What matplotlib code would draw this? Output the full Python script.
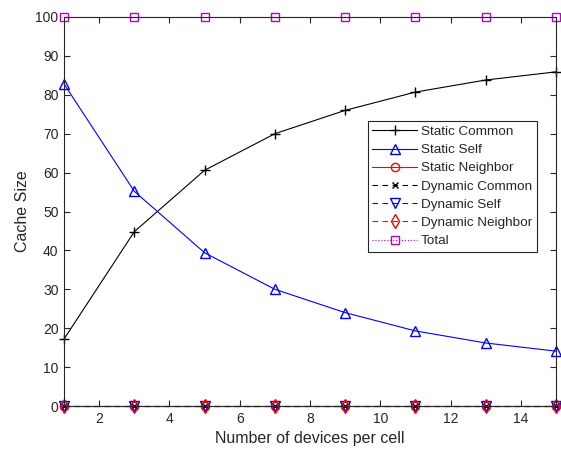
import matplotlib.pyplot as plt
import numpy as np

plt.rcParams['font.family'] = ['Liberation Sans', 'DejaVu Sans']

devices = [1, 3, 5, 7, 9, 11, 13, 15]
static_common = [17.2, 44.8, 60.6, 70.0, 76.0, 80.7, 83.8, 85.9]
static_self = [82.8, 55.2, 39.4, 30.0, 24.0, 19.3, 16.2, 14.1]
static_neighbor = [0, 0, 0, 0, 0, 0, 0, 0]
dynamic_common = [0, 0, 0, 0, 0, 0, 0, 0]
dynamic_self = [0, 0, 0, 0, 0, 0, 0, 0]
dynamic_neighbor = [0, 0, 0, 0, 0, 0, 0, 0]
total = [100, 100, 100, 100, 100, 100, 100, 100]

fig = plt.figure(figsize=(5.61, 4.54), dpi=100)
ax = fig.add_axes([64 / 561, 1 - 406 / 454, 492 / 561, 389 / 454])

txt = '#262626'
lw = 0.8
ax.plot(devices, static_common, '-', color='k', marker='+', ms=7, lw=lw,
        label='Static Common', clip_on=False)
ax.plot(devices, static_self, '-', color='b', marker='^', ms=6.5, mfc='none', lw=lw,
        label='Static Self', clip_on=False)
ax.plot(devices, static_neighbor, '-', color='r', marker='o', ms=6, mfc='none', lw=lw,
        label='Static Neighbor', clip_on=False)
ax.plot(devices, dynamic_common, '--', color='k', marker='x', ms=5, lw=lw,
        label='Dynamic Common', clip_on=False, dashes=(5, 4))
ax.plot(devices, dynamic_self, '--', color='b', marker='v', ms=6.5, mfc='none', lw=lw,
        label='Dynamic Self', clip_on=False, dashes=(5, 4))
ax.plot(devices, dynamic_neighbor, '--', color='r', marker='d', ms=7, mfc='none', lw=lw,
        label='Dynamic Neighbor', clip_on=False, dashes=(5, 4))
ax.plot(devices, total, ':', color='m', marker='s', ms=6, mfc='none', lw=lw,
        label='Total', clip_on=False)

ax.set_xlim(1, 15)
ax.set_ylim(0, 100)
ax.set_xticks(np.arange(2, 15, 2))
ax.set_yticks(np.arange(0, 101, 10))
ax.tick_params(direction='in', top=True, right=True, length=4, width=0.8,
               labelsize=10, colors=txt, labelcolor=txt, pad=4)
for s in ax.spines.values():
    s.set_color(txt)
    s.set_linewidth(0.8)

ax.set_xlabel('Number of devices per cell', fontsize=11.5, color=txt, labelpad=4)
ax.set_ylabel('Cache Size', fontsize=11.5, color=txt, labelpad=4)

leg = ax.legend(loc='upper right', bbox_to_anchor=(0.961, 0.733), borderaxespad=0,
                fontsize=9.7, handlelength=3.3, handletextpad=0.3, labelspacing=0.43,
                borderpad=0.35, fancybox=False, framealpha=1, edgecolor=txt)
leg.get_frame().set_linewidth(0.8)
for t in leg.get_texts():
    t.set_color(txt)

fig.savefig('out.png', dpi=100)
